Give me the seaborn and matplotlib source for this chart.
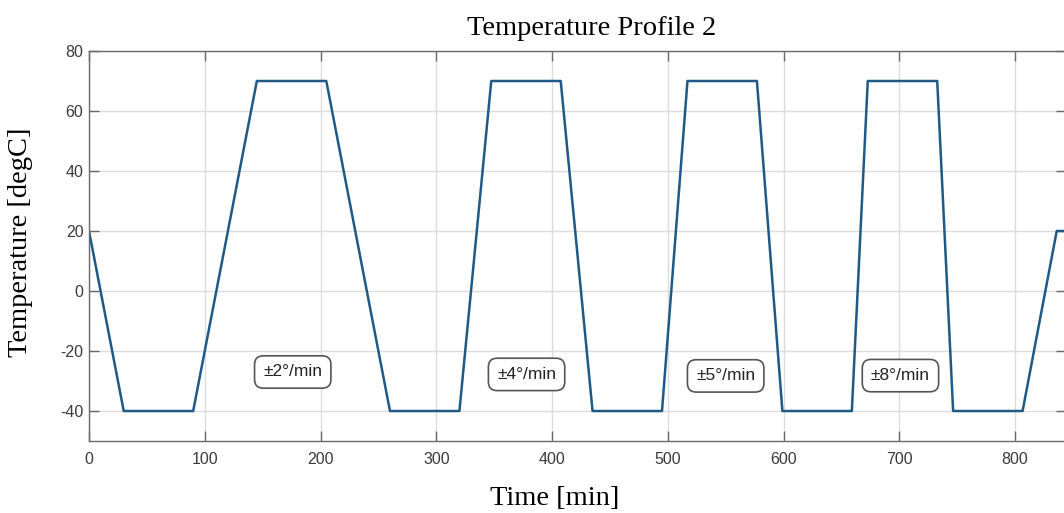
import matplotlib
matplotlib.use("Agg")
import matplotlib.pyplot as plt
import seaborn as sns
import pandas as pd

# Data
time_min = [0, 30, 90, 145, 205, 260, 320, 347.5, 407.5, 435, 495, 517, 577,
            599, 659, 672.75, 732.75, 746.5, 806.5, 836, 844]
temp_degc = [20, -40, -40, 70, 70, -40, -40, 70, 70, -40, -40, 70, 70,
             -40, -40, 70, 70, -40, -40, 20, 20]
rate_labels = ["±2°/min", "±4°/min", "±5°/min", "±8°/min"]
rate_label_x = [176, 378, 550, 701]
rate_label_y = [-27, -27.8, -28.3, -28.2]
x_ticks = [0, 100, 200, 300, 400, 500, 600, 700, 800]
y_ticks = [-40, -20, 0, 20, 40, 60, 80]

sns.set_theme(style="whitegrid")
plt.rcParams['font.family'] = ['Liberation Sans', 'DejaVu Sans']
plt.rcParams['axes.unicode_minus'] = False

W, H = 1064, 513
fig = plt.figure(figsize=(W / 100, H / 100), dpi=100)
ax = fig.add_axes([89 / W, 1 - 441 / H, (1066 - 89) / W, 390 / H])
ax.set_facecolor("white")

df = pd.DataFrame({"Time": time_min, "Temp": temp_degc})
sns.lineplot(data=df, x="Time", y="Temp", ax=ax, color="#1f5a86",
             linewidth=1.8, sort=False, estimator=None)

ax.set_xlim(0, 844)
ax.set_ylim(-50, 80)
ax.set_xticks(x_ticks)
ax.set_yticks(y_ticks)
ax.set_xlabel("")
ax.set_ylabel("")

ax.grid(True, color="#dcdcdc", linewidth=1.0)
for s in ax.spines.values():
    s.set_visible(True)
    s.set_color("#6a6a6a")
    s.set_linewidth(1.0)

ax.tick_params(axis="both", which="major", direction="in", length=7, width=1,
               color="#6a6a6a", labelsize=11.5, labelcolor="#3a3a3a",
               top=True, right=True, bottom=True, left=True)
ax.tick_params(axis="x", pad=8)
ax.tick_params(axis="y", pad=4)

for txt, xx, yy in zip(rate_labels, rate_label_x, rate_label_y):
    ax.text(xx, yy, txt, ha="center", va="center", fontsize=12.5, color="#222222",
            bbox=dict(boxstyle="round,pad=0.5,rounding_size=0.5",
                      facecolor="white", edgecolor="#555555", linewidth=1.2))

serif = ['Liberation Serif', 'DejaVu Serif']
fig.text(591.5 / W, 1 - 35 / H, "Temperature Profile 2", ha="center",
         va="baseline", fontsize=20.5, family=serif, color="black")
fig.text(555 / W, 1 - 505 / H, "Time [min]", ha="center", va="baseline",
         fontsize=20.5, family=serif, color="black")
fig.text(21 / W, 1 - 242 / H, "Temperature [degC]", ha="center", va="center",
         rotation=90, fontsize=20.5, family=serif, color="black")

fig.savefig("out.png", dpi=100)
